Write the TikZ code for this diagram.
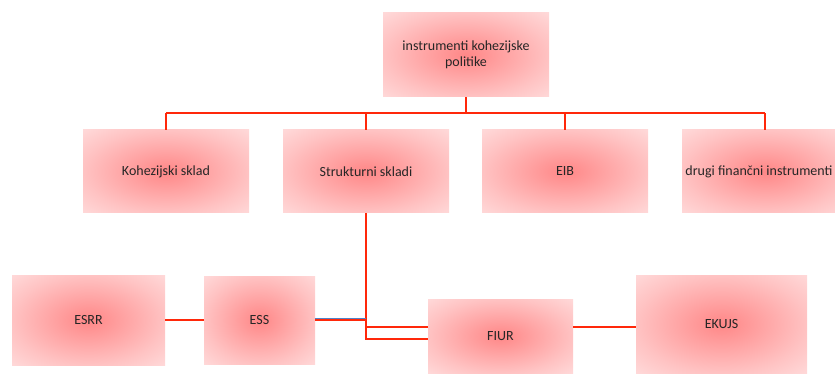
\documentclass[tikz,border=0pt]{standalone}
\usepackage{fontspec}
\setmainfont{Carlito}
\usetikzlibrary{calc}
\definecolor{glowin}{RGB}{255,135,135}
\definecolor{glowmid}{RGB}{255,195,195}
\definecolor{glowout}{RGB}{255,218,218}
\definecolor{linkred}{RGB}{255,40,10}
\definecolor{linkblue}{RGB}{80,130,200}
\pgfdeclareradialshading{boxglow}{\pgfpoint{0bp}{0bp}}{color(0bp)=(glowin); color(25bp)=(glowmid); color(36bp)=(glowout); color(50bp)=(glowout)}
\tikzset{
  orgbox/.style={shading=boxglow, inner sep=0pt, align=center,
    font=\fontsize{14}{16}\selectfont, text=black!85},
  link/.style={draw=linkred, line width=2pt},
  thinlink/.style={draw=linkblue, line width=1.2pt}
}
\begin{document}
\begin{tikzpicture}[x=1pt,y=-1pt]
\useasboundingbox (0,0) rectangle (835,374);
\node[orgbox, minimum width=166pt, minimum height=84pt] (top) at (466,55) {instrumenti kohezijske\\politike};
\node[orgbox, minimum width=166pt, minimum height=83pt] (koh) at (166,171.5) {Kohezijski sklad};
\node[orgbox, minimum width=166pt, minimum height=83pt] (str) at (366,171.5) {Strukturni skladi};
\node[orgbox, minimum width=166pt, minimum height=83pt] (eib) at (565,171.5) {EIB};
\node[orgbox, minimum width=166pt, minimum height=83pt] (drugi) at (765,171.5) {\hspace*{-12pt}drugi finančni instrumenti};
\node[orgbox, minimum width=153pt, minimum height=90pt] (esrr) at (88.5,320) {ESRR};
\node[orgbox, minimum width=111pt, minimum height=88pt] (ess) at (259.5,320) {ESS};
\node[orgbox, minimum width=145pt, minimum height=74pt] (fiur) at (500.5,336) {FIUR};
\node[orgbox, minimum width=171pt, minimum height=98pt] (ekujs) at (721.5,324) {EKUJS};
\coordinate (bus) at (466,113);
\coordinate (jA) at (366,327);
\coordinate (jB) at (366,339);
\draw[link] (top.south) -- (bus);
\draw[link] (bus -| koh) -- (bus -| drugi);
\draw[link] (bus -| koh) -- (koh.north);
\draw[link] (bus -| str) -- (str.north);
\draw[link] (bus -| eib) -- (eib.north);
\draw[link] (bus -| drugi) -- (drugi.north);
\draw[link] (str.south) -- (jB) -- (jB -| fiur.west);
\draw[link] (jA) -- (jA -| fiur.west);
\draw[link] (ess.east) -- (ess.east -| str);
\draw[thinlink] ([yshift=1.6pt]ess.east) -- ([yshift=1.6pt]ess.east -| str);
\draw[link] (esrr.east) -- (esrr.east -| ess.west);
\draw[link] (jA -| fiur.east) -- (jA -| ekujs.west);
\end{tikzpicture}
\end{document}
